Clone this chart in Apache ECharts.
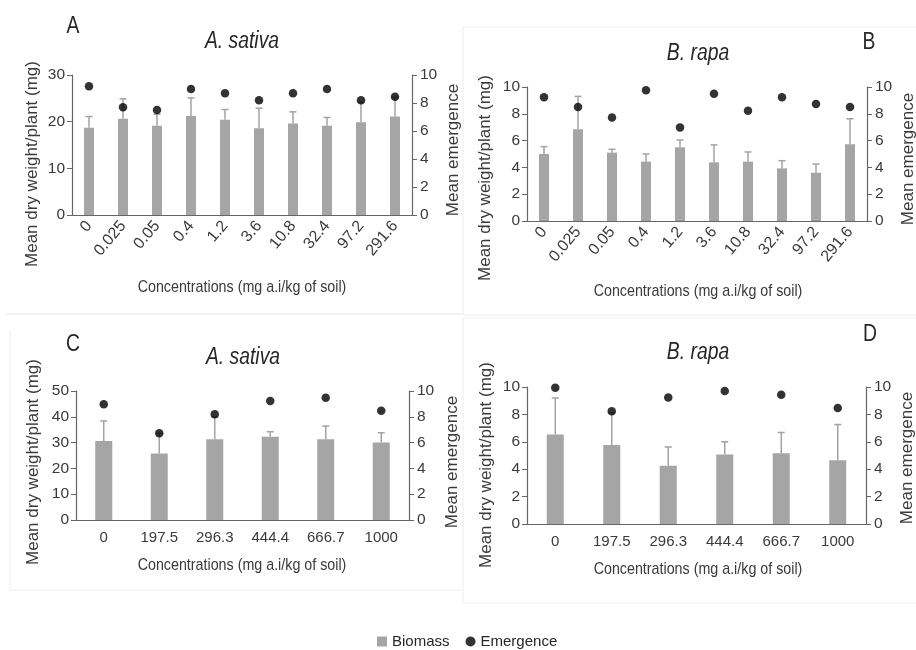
<!DOCTYPE html>
<html>
<head>
<meta charset="utf-8">
<script src="https://cdn.jsdelivr.net/npm/echarts@6/dist/echarts.min.js"></script>
<style>html,body{margin:0;padding:0;background:#fff;}#c{width:916px;height:650px;}</style>
</head>
<body>
<div id="c"></div>
<script>
// ---- data ----
var catsAB = ['0','0.025','0.05','0.4','1.2','3.6','10.8','32.4','97.2','291.6'];
var catsCD = ['0','197.5','296.3','444.4','666.7','1000'];

var biomassA = [18.7,20.6,19.1,21.2,20.4,18.6,19.6,19.1,19.9,21.1];
var sdA      = [2.4,4.3,2.5,3.9,2.2,4.3,2.5,1.8,4.3,4.1];
var emergA   = [9.2,7.7,7.5,9.0,8.7,8.2,8.7,9.0,8.2,8.45];

var biomassB = [5.0,6.85,5.1,4.43,5.5,4.38,4.43,3.93,3.6,5.73];
var sdB      = [0.55,2.45,0.25,0.57,0.55,1.3,0.72,0.57,0.65,1.9];
var emergB   = [9.23,8.5,7.73,9.75,6.98,9.5,8.23,9.23,8.73,8.5];

var biomassC = [30.6,25.8,31.3,32.3,31.3,30.0];
var sdC      = [7.8,7.8,8.7,1.9,5.1,3.8];
var emergC   = [8.97,6.72,8.19,9.22,9.48,8.47];

var biomassD = [6.54,5.76,4.26,5.08,5.16,4.65];
var sdD      = [2.66,2.35,1.36,0.92,1.52,2.61];
var emergD   = [9.95,8.23,9.23,9.71,9.44,8.47];

var leftMax = [30,10,50,10];
var leftInt = [10,2,10,2];
var rightMax = 10, rightInt = 2;

var FF = "'Liberation Sans', Arial, sans-serif";
var SX = 0.84; // horizontal squeeze seen in the reference texts

var AXIS = '#666666', TXT = '#3a3a3a', BAR = '#a5a5a5', ERR = '#a3a3a3';

var grids = [
  {left:72, top:75, width:340, height:140},
  {left:527, top:87, width:340, height:134},
  {left:76, top:391, width:333, height:129},
  {left:527, top:387, width:339, height:137}
];

var xAxes = [], yAxes = [], series = [];
var sets = [
  {cats:catsAB, b:biomassA, sd:sdA, e:emergA, rot:true, bw:10},
  {cats:catsAB, b:biomassB, sd:sdB, e:emergB, rot:true, bw:10},
  {cats:catsCD, b:biomassC, sd:sdC, e:emergC, rot:false, bw:17},
  {cats:catsCD, b:biomassD, sd:sdD, e:emergD, rot:false, bw:17}
];

function errRender(params, api){
  var x = api.value(0), base = api.value(1), top = api.value(2);
  var p1 = api.coord([x, base]), p2 = api.coord([x, top]);
  var hw = 3.5;
  return {type:'group', children:[
    {type:'line', shape:{x1:p1[0], y1:p1[1], x2:p2[0], y2:p2[1]}, style:{stroke:ERR, lineWidth:1.5}},
    {type:'line', shape:{x1:p2[0]-hw, y1:p2[1], x2:p2[0]+hw, y2:p2[1]}, style:{stroke:ERR, lineWidth:1.5}}
  ]};
}

sets.forEach(function(s, i){
  xAxes.push({
    type:'category', gridIndex:i, data:s.cats, boundaryGap:true,
    axisLine:{lineStyle:{color:AXIS, width:1.2}},
    axisTick:{alignWithLabel:true, length:5, lineStyle:{color:AXIS}},
    axisLabel:s.rot ? {rotate:50, interval:0, color:TXT, fontSize:16, fontFamily:FF, margin:8}
                    : {interval:0, color:TXT, fontSize:15, fontFamily:FF, margin:10}
  });
  yAxes.push({
    type:'value', gridIndex:i, min:0, max:leftMax[i], interval:leftInt[i], position:'left',
    splitLine:{show:false},
    axisLine:{show:true, lineStyle:{color:AXIS, width:1.2}},
    axisTick:{show:true, length:5, lineStyle:{color:AXIS}},
    axisLabel:{color:TXT, fontSize:15.5, fontFamily:FF, margin:7}
  });
  yAxes.push({
    type:'value', gridIndex:i, min:0, max:rightMax, interval:rightInt, position:'right',
    splitLine:{show:false},
    axisLine:{show:true, lineStyle:{color:AXIS, width:1.2}},
    axisTick:{show:true, length:5, lineStyle:{color:AXIS}},
    axisLabel:{color:TXT, fontSize:15.5, fontFamily:FF, margin:8}
  });
  series.push({
    name:'Biomass', type:'bar', xAxisIndex:i, yAxisIndex:2*i, data:s.b,
    barWidth:s.bw, itemStyle:{color:BAR}, z:2, silent:true
  });
  series.push({
    name:'err'+i, type:'custom', xAxisIndex:i, yAxisIndex:2*i,
    data:s.b.map(function(v,k){ return [k, v, v + s.sd[k]]; }),
    renderItem:errRender, z:3, silent:true,
    encode:{x:0, y:[1,2]}
  });
  series.push({
    name:'Emergence', type:'scatter', xAxisIndex:i, yAxisIndex:2*i+1, data:s.e,
    symbol:'circle', symbolSize:8.5, itemStyle:{color:'#000'}, z:4, silent:true
  });
});

function txt(x, y, text, size, opts){
  opts = opts || {};
  var el = {type:'text', x:x, y:y, rotation:opts.rot || 0, z:10, silent:true,
    style:{text:text, fill:opts.fill || '#262626', font:(opts.italic?'italic ':'') + size + 'px ' + FF,
      textAlign:'center', textVerticalAlign:'middle'}};
  if (opts.squeeze) { el.scaleX = SX; }
  return el;
}
var R = Math.PI/2;
var H = {squeeze:true};
var graphics = [
  // faint panel borders
  {type:'line', shape:{x1:5, y1:314, x2:462, y2:314}, style:{stroke:'#e6e6e6', lineWidth:1}, silent:true},
  {type:'polyline', shape:{points:[[916,27],[463,27],[463,315],[916,315]]}, style:{stroke:'#eeeeee', fill:null, lineWidth:1}, silent:true},
  {type:'polyline', shape:{points:[[10,330],[10,590],[462,590]]}, style:{stroke:'#eeeeee', fill:null, lineWidth:1}, silent:true},
  {type:'polyline', shape:{points:[[916,318],[463,318],[463,603],[916,603]]}, style:{stroke:'#eeeeee', fill:null, lineWidth:1}, silent:true},
  // panel letters
  txt(73, 27, 'A', 23, H),
  txt(869, 43, 'B', 23, H),
  txt(73, 345, 'C', 23, H),
  txt(870, 335, 'D', 23, H),
  // titles
  txt(242, 42, 'A. sativa', 23, {italic:true, squeeze:true}),
  txt(698, 54, 'B. rapa', 23, {italic:true, squeeze:true}),
  txt(243, 358, 'A. sativa', 23, {italic:true, squeeze:true}),
  txt(698, 353, 'B. rapa', 23, {italic:true, squeeze:true}),
  // x axis names
  txt(242, 287, 'Concentrations (mg a.i/kg of soil)', 17, {fill:TXT, squeeze:true}),
  txt(698, 291, 'Concentrations (mg a.i/kg of soil)', 17, {fill:TXT, squeeze:true}),
  txt(242, 565, 'Concentrations (mg a.i/kg of soil)', 17, {fill:TXT, squeeze:true}),
  txt(698, 569, 'Concentrations (mg a.i/kg of soil)', 17, {fill:TXT, squeeze:true}),
  // left y names
  txt(32, 164, 'Mean dry weight/plant (mg)', 17, {rot:R, fill:TXT}),
  txt(485, 178, 'Mean dry weight/plant (mg)', 17, {rot:R, fill:TXT}),
  txt(33, 462, 'Mean dry weight/plant (mg)', 17, {rot:R, fill:TXT}),
  txt(486, 465, 'Mean dry weight/plant (mg)', 17, {rot:R, fill:TXT}),
  // right y names
  txt(453, 150, 'Mean emergence', 17, {rot:R, fill:TXT}),
  txt(908, 159, 'Mean emergence', 17, {rot:R, fill:TXT}),
  txt(452, 462, 'Mean emergence', 17, {rot:R, fill:TXT}),
  txt(907, 458, 'Mean emergence', 17, {rot:R, fill:TXT})
];

var chart = echarts.init(document.getElementById('c'), null, {renderer:'canvas'});
chart.setOption({
  animation:false,
  backgroundColor:'#fff',
  grid:grids,
  xAxis:xAxes,
  yAxis:yAxes,
  legend:{
    data:[{name:'Biomass', icon:'rect'}, {name:'Emergence', icon:'circle'}],
    left:372, top:629, itemWidth:10, itemHeight:10, itemGap:16,
    textStyle:{color:'#262626', fontSize:15, fontFamily:FF},
    selectedMode:false
  },
  graphic:graphics,
  series:series
});
</script>
</body>
</html>
